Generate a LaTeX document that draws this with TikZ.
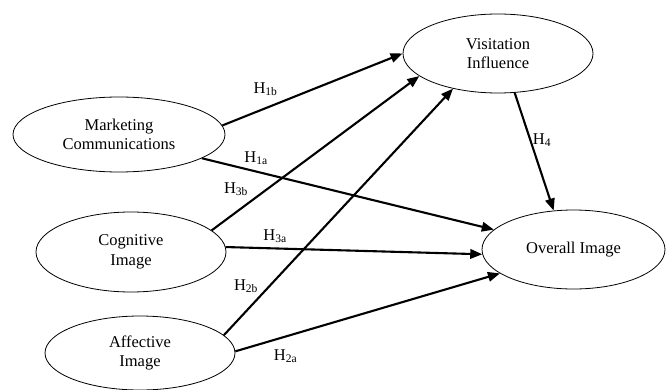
\documentclass[tikz,border=0pt]{standalone}
\usepackage{fontspec}
\setmainfont{Liberation Serif}
\usetikzlibrary{arrows.meta,shapes.geometric}
\begin{document}
\begin{tikzpicture}[x=1pt,y=-1pt,
  ell/.style={ellipse, draw, line width=0.8pt, inner sep=0pt, align=center,
    font=\fontsize{16.5}{19.5}\selectfont},
  conn/.style={line width=2.1pt, -{Triangle[length=12pt,width=9.5pt]}},
  hlab/.style={inner sep=0pt, font=\fontsize{16.5}{19.5}\selectfont}]
\useasboundingbox (0,0) rectangle (668,390);
\node[ell, minimum width=190pt, minimum height=79pt] (vi) at (498,53.5) {Visitation\\Influence};
\node[ell, minimum width=212pt, minimum height=75pt] (mc) at (119,134.5) {Marketing\\Communications};
\node[ell, minimum width=190pt, minimum height=80pt] (ci) at (131,252) {Cognitive\\Image};
\node[ell, minimum width=190pt, minimum height=74pt] (ai) at (140,353) {Affective\\Image};
\node[ell, minimum width=183pt, minimum height=79pt] (oi) at (573.5,249.5) {Overall Image};
\draw[conn] (mc.5) -- (vi.180);
\draw[conn] (mc.-16) -- (oi.166);
\draw[conn] (ci.15) -- (vi.196);
\draw[conn] (ci.3) -- (oi.183);
\draw[conn] (ai.12) -- (vi.218);
\draw[conn] (ai.1) -- (oi.198);
\draw[conn] (vi.-67) -- (oi.117);
\node[hlab] (h1b) at (265.5,89) {H\textsubscript{1b}};
\node[hlab] (h1a) at (256,158) {H\textsubscript{1a}};
\node[hlab] (h3b) at (236,189) {H\textsubscript{3b}};
\node[hlab] (h3a) at (275,236) {H\textsubscript{3a}};
\node[hlab] (h2b) at (246,286) {H\textsubscript{2b}};
\node[hlab] (h2a) at (285.5,356) {H\textsubscript{2a}};
\node[hlab] (h4) at (542,140) {H\textsubscript{4}};
\end{tikzpicture}
\end{document}
